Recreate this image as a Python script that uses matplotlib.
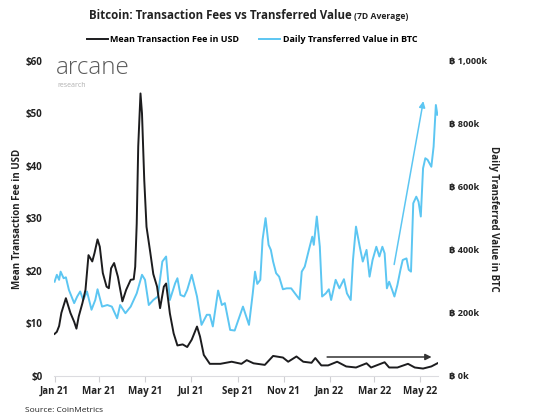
import matplotlib
matplotlib.use("Agg")
import matplotlib.pyplot as plt
import matplotlib.ticker as mticker
import pandas as pd

plt.rcParams['font.family'] = ['Open Sans', 'DejaVu Sans']

# days since 2021-01-01 and 7D average mean fee in USD
fee_day = [0, 3, 6, 9, 15, 21, 26, 29, 32, 37, 41, 45, 50, 53, 57, 60, 64, 69, 72, 75,
           79, 84, 90, 95, 101, 105, 107, 109, 111, 114, 116, 119, 122, 127, 131, 136,
           140, 145, 148, 153, 158, 163, 170, 176, 182, 189, 193, 198, 206, 220, 235,
           248, 255, 264, 279, 290, 303, 310, 321, 330, 341, 346, 354, 363, 375, 387,
           400, 414, 420, 438, 444, 455, 469, 478, 489, 500, 508]
fee_usd = [8.0, 8.4, 9.5, 12.0, 14.8, 12.0, 10.3, 9.0, 11.3, 13.9, 16.4, 23.0, 21.8,
           23.4, 26.0, 24.6, 19.6, 17.0, 16.7, 20.5, 21.5, 18.9, 14.2, 16.4, 18.3, 18.4,
           20.8, 29.0, 43.7, 53.8, 50.0, 37.3, 28.4, 23.5, 19.4, 17.0, 12.9, 17.0, 17.6,
           11.9, 8.1, 5.8, 6.0, 5.5, 6.9, 9.4, 7.5, 4.0, 2.3, 2.3, 2.7, 2.3, 3.0, 2.4,
           2.1, 3.8, 3.5, 2.7, 3.7, 2.7, 2.5, 3.4, 2.0, 2.0, 2.7, 1.8, 1.6, 2.4, 1.6,
           2.6, 1.6, 1.6, 2.3, 1.6, 1.4, 1.8, 2.4]

# days since 2021-01-01 and daily transferred value in thousand BTC
btc_day = [0, 3, 6, 8, 12, 15, 19, 26, 30, 34, 38, 43, 49, 54, 57, 63, 70, 76, 83, 87,
           94, 101, 109, 116, 120, 125, 131, 137, 143, 148, 153, 160, 163, 167, 172,
           176, 182, 189, 195, 202, 206, 210, 217, 222, 226, 233, 239, 250, 258, 263,
           266, 269, 273, 276, 280, 284, 287, 290, 294, 298, 303, 308, 314, 319, 325,
           328, 332, 338, 342, 344, 348, 352, 355, 360, 364, 367, 373, 378, 384, 388,
           393, 396, 400, 405, 409, 414, 418, 422, 427, 431, 435, 438, 441, 444, 448,
           451, 455, 459, 462, 467, 470, 473, 476, 480, 483, 486, 489, 492, 495, 500,
           503, 506, 508]
btc_k = [299, 321, 305, 331, 310, 313, 273, 231, 252, 268, 241, 268, 210, 241, 275, 220,
         225, 220, 183, 225, 199, 220, 262, 321, 305, 225, 241, 252, 363, 379, 241, 294,
         310, 257, 252, 273, 321, 252, 162, 194, 194, 157, 271, 225, 231, 146, 144, 220,
         162, 262, 331, 292, 305, 432, 501, 416, 400, 363, 326, 315, 275, 278, 278, 262,
         243, 331, 347, 405, 442, 416, 506, 410, 252, 262, 275, 241, 305, 278, 307, 262,
         241, 368, 474, 410, 363, 400, 315, 368, 410, 379, 410, 389, 278, 299, 273, 252,
         289, 337, 368, 373, 337, 331, 548, 569, 553, 506, 659, 691, 686, 664, 728, 860,
         829]

tick_dates = ['2021-01-01', '2021-03-01', '2021-05-01', '2021-07-01', '2021-09-01',
              '2021-11-01', '2022-01-01', '2022-03-01', '2022-05-01']
tick_labels = ['Jan 21', 'Mar 21', 'May 21', 'Jul 21', 'Sep 21', 'Nov 21', 'Jan 22',
               'Mar 22', 'May 22']

BLACK = '#1c1c1e'
BLUE = '#5cc6f2'
DARK = '#222222'

fee_x = pd.to_datetime(fee_day, unit='D', origin='2021-01-01')
btc_x = pd.to_datetime(btc_day, unit='D', origin='2021-01-01')
day = lambda d: pd.Timestamp('2021-01-01') + pd.Timedelta(days=d)

fig = plt.figure(figsize=(5.33, 4.2), dpi=100)
ax = fig.add_axes([0.101, 0.105, 0.721, 0.750])
ax2 = ax.twinx()

ax2.plot(btc_x, btc_k, color=BLUE, lw=1.4, zorder=2)
ax.plot(fee_x, fee_usd, color=BLACK, lw=1.4, zorder=3)
ax.set_zorder(ax2.get_zorder() + 1)
ax.patch.set_visible(False)

ax.set_xlim(day(-1), day(509))
ax.set_ylim(0, 60)
ax2.set_ylim(0, 1000)
ax.set_yticks(range(0, 61, 10))
ax2.set_yticks(range(0, 1001, 200))
ax.yaxis.set_major_formatter(mticker.FuncFormatter(lambda v, p: f'${v:.0f}'))
ax2.yaxis.set_major_formatter(mticker.FuncFormatter(lambda v, p: f'\u0e3f {v:,.0f}k'))
ax.set_xticks(pd.to_datetime(tick_dates))
ax.set_xticklabels(tick_labels)

for a in (ax, ax2):
    for s in a.spines.values():
        s.set_visible(False)
ax.spines['bottom'].set_visible(True)
ax.spines['bottom'].set_color('#dcdce0')
ax.tick_params(axis='x', colors='#d0d0d4', length=4, width=0.8, pad=3,
               labelcolor=DARK, labelsize=7)
ax.tick_params(axis='y', length=0, pad=8, labelcolor=DARK, labelsize=7)
ax2.tick_params(axis='y', length=0, pad=8, labelcolor=DARK, labelsize=6.6)
for lab in ax.get_xticklabels() + ax.get_yticklabels() + ax2.get_yticklabels():
    lab.set_fontweight('bold')

ax.set_ylabel('Mean Transaction Fee in USD', fontsize=7, fontweight='bold',
              color=DARK, va='center')
ax.yaxis.set_label_coords(-0.094, 0.5)
ax2.set_ylabel('Daily Transferred Value in BTC', fontsize=7, fontweight='bold',
               color=DARK, rotation=270, va='center')
ax2.yaxis.set_label_coords(1.143, 0.5)

# trend arrows
ax.annotate('', xy=(day(504), 3.6), xytext=(day(358), 3.6),
            arrowprops=dict(arrowstyle='-|>', color='#333333', lw=1.1,
                            mutation_scale=9))
ax2.annotate('', xy=(day(490), 881), xytext=(day(450), 345),
             arrowprops=dict(arrowstyle='-|>', color=BLUE, lw=1.1,
                             mutation_scale=9))

# title
fig.text(0.167, 0.962, 'Bitcoin: Transaction Fees vs Transferred Value', fontsize=8.3,
         fontweight='bold', color=DARK, ha='left', va='center')
fig.text(0.664, 0.961, '(7D Average)', fontsize=6.2, fontweight='bold', color=DARK,
         ha='left', va='center')

fig.legend(handles=[plt.Line2D([], [], color=BLACK, lw=1.4),
                    plt.Line2D([], [], color=BLUE, lw=1.4)],
           labels=['Mean Transaction Fee in USD', 'Daily Transferred Value in BTC'],
           loc='center', bbox_to_anchor=(0.473, 0.905), ncol=2, frameon=False,
           prop={'size': 6.5, 'weight': 'bold'}, handlelength=2.3, handletextpad=0.3,
           columnspacing=2.2)

# logo
fig.text(0.104, 0.838, 'arcane', fontsize=17.5, fontweight='light', color='#5a5a5a',
         ha='left', va='center')
fig.text(0.108, 0.797, 'research', fontsize=5, color='#b0b0b0', ha='left', va='center')

fig.text(0.047, 0.023, 'Source: CoinMetrics', fontsize=6, color=DARK, ha='left',
         va='center')

fig.savefig('out.png', dpi=100)
